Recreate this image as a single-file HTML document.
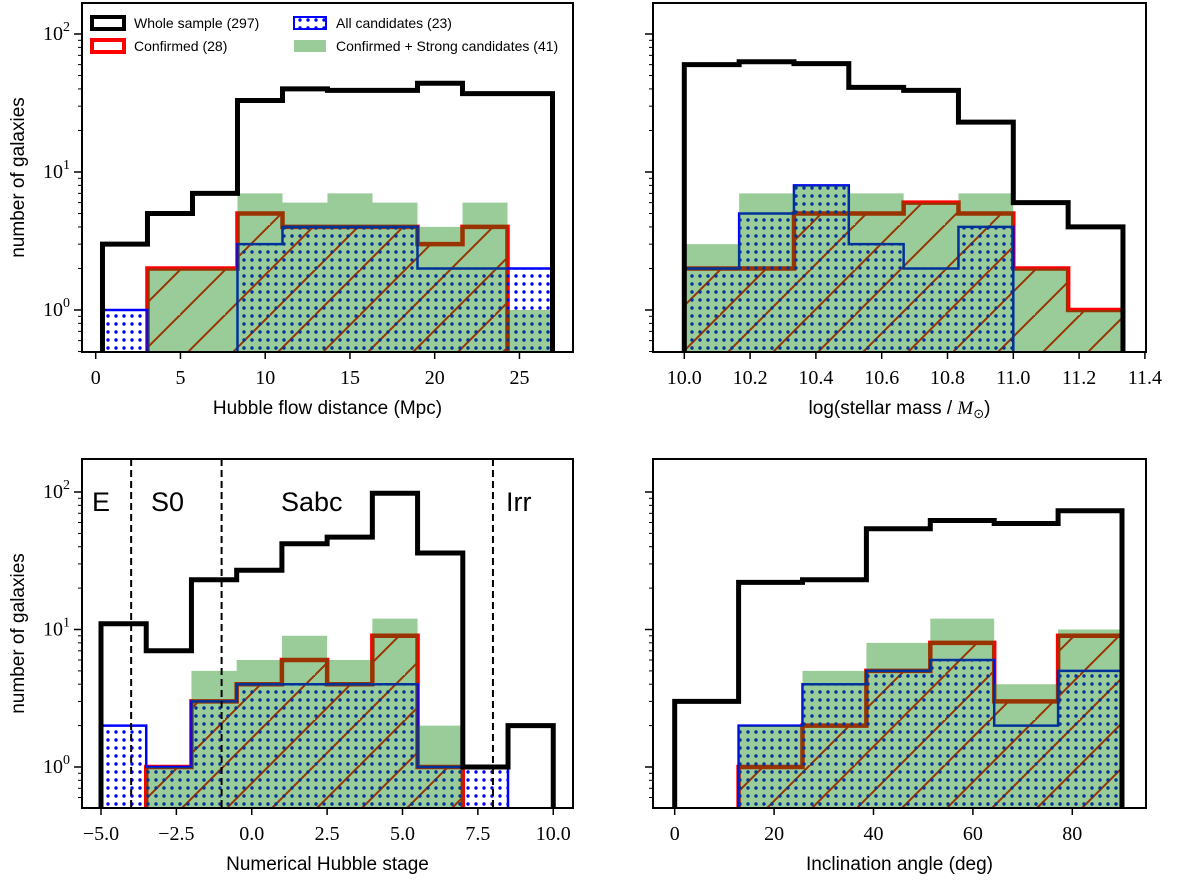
<!DOCTYPE html>
<html><head><meta charset="utf-8">
<style>
html,body{margin:0;padding:0;background:#fff;}
svg{display:block;}
text{font-family:"Liberation Sans",sans-serif;fill:#000;}
.tick{font-family:"Liberation Serif",serif;font-size:20px;}
.lab{font-size:19px;}
.leg{font-size:14px;}
</style></head>
<body>
<svg id="chart" width="1200" height="881" viewBox="0 0 1200 881" xmlns="http://www.w3.org/2000/svg">
<defs>
<pattern id="hatch" patternUnits="userSpaceOnUse" width="45" height="45">
<path d="M-5,50 L50,-5 M-50,50 L5,-5 M40,95 L95,40" stroke="#ff0000" stroke-width="2" fill="none"/>
</pattern>
<pattern id="dots" patternUnits="userSpaceOnUse" width="8" height="8">
<circle cx="4" cy="4" r="1.7" fill="#0000ff"/>
</pattern>
</defs>
</svg>
<script>
// Panel 1: Hubble flow distance
const p1Edges = [0.4,3.055,5.71,8.365,11.02,13.675,16.33,18.985,21.64,24.295,26.95];
const p1Whole = [3,5,7,33,40,39,39,44,37,37];
const p1Confirmed = [0,2,2,5,4,4,4,3,4,0];
const p1Candidates = [1,0,0,3,4,4,4,2,2,2];
const p1Strong = [0,2,2,7,6,7,6,4,6,1];
const p1Ticks = [0,5,10,15,20,25];
const p1TickLabels = ["0","5","10","15","20","25"];
// Panel 2: stellar mass
const p2Edges = [10.0,10.1667,10.3333,10.5,10.6667,10.8333,11.0,11.1667,11.3333];
const p2Whole = [60,63,61,41,39,23,6,4];
const p2Confirmed = [2,2,5,5,6,5,2,1];
const p2Candidates = [2,5,8,3,2,4,0,0];
const p2Strong = [3,7,8,7,6,7,2,1];
const p2Ticks = [10.0,10.2,10.4,10.6,10.8,11.0,11.2,11.4];
const p2TickLabels = ["10.0","10.2","10.4","10.6","10.8","11.0","11.2","11.4"];
// Panel 3: Hubble stage
const p3Edges = [-5,-3.5,-2,-0.5,1,2.5,4,5.5,7,8.5,10];
const p3Whole = [11,7,23,27,42,47,98,36,1,2];
const p3Confirmed = [0,1,3,4,6,4,9,1,0,0];
const p3Candidates = [2,1,3,4,4,4,4,1,1,0];
const p3Strong = [0,1,5,6,9,6,12,2,0,0];
const p3Ticks = [-5,-2.5,0,2.5,5,7.5,10];
const p3TickLabels = ["\u22125.0","\u22122.5","0.0","2.5","5.0","7.5","10.0"];
const p3Dividers = [-4,-1,8];
// Panel 4: inclination
const p4Edges = [0,12.857,25.714,38.571,51.429,64.286,77.143,90];
const p4Whole = [3,22,23,54,62,59,73];
const p4Confirmed = [0,1,2,5,8,3,9];
const p4Candidates = [0,2,4,5,6,2,5];
const p4Strong = [0,2,5,8,12,4,10];
const p4Ticks = [0,20,40,60,80];
const p4TickLabels = ["0","20","40","60","80"];

const NS = "http://www.w3.org/2000/svg";
const svg = document.getElementById('chart');
function mk(tag, attrs, parent){
  const e = document.createElementNS(NS, tag);
  for (const k in attrs) e.setAttribute(k, attrs[k]);
  (parent||svg).appendChild(e);
  return e;
}

function panel(id, geo, edges, whole, conf, cand, strong, ticks, tickLabels, xlabel, showYLabels){
  const {L,R,T,B,y0,dec,xa,xs} = geo;
  const X = v => xa + v*xs;
  const Y = v => v>0 ? y0 - Math.log10(v)*dec : B+20;
  const g = mk('g', {});
  
  
  const cp = mk('clipPath', {id:id+'-clip'}, g);
  mk('rect', {x:L, y:T, width:R-L, height:B-T}, cp);
  const plot = mk('g', {'clip-path':'url(#'+id+'-clip)'}, g);
  function stepPath(vals){
    let d = 'M'+X(edges[0])+','+(B+20);
    for (let i=0;i<vals.length;i++){
      d += ' L'+X(edges[i])+','+Y(vals[i])+' L'+X(edges[i+1])+','+Y(vals[i]);
    }
    d += ' L'+X(edges[edges.length-1])+','+(B+20);
    return d;
  }
  const c1 = mk('path', {d:stepPath(conf), fill:'url(#hatch)', stroke:'#ff0000', 'stroke-width':4.5, 'stroke-linejoin':'miter'}, plot);
  
  
  const cw = mk('path', {d:stepPath(cand), fill:'url(#dots)', stroke:'#0000ff', 'stroke-width':2.5}, plot);
  
  
  const s = mk('path', {d:stepPath(strong), fill:'#008000', 'fill-opacity':0.4, stroke:'none'}, plot);
  
  
  const w = mk('path', {d:stepPath(whole), fill:'none', stroke:'#000', 'stroke-width':5, 'stroke-linejoin':'miter'}, plot);
  
  
  const fr = mk('rect', {x:L, y:T, width:R-L, height:B-T, fill:'none', stroke:'#000', 'stroke-width':2}, g);
  
  
  ticks.forEach((t,i)=>{
    mk('line', {x1:X(t), x2:X(t), y1:B, y2:B+7, stroke:'#000', 'stroke-width':1.5}, g);
    const tx = mk('text', {x:X(t), y:B+32, 'text-anchor':'middle', class:'tick'}, g);
    tx.textContent = tickLabels[i];
    
    
  });
  const xl = mk('text', {x:(L+R)/2, y:B+62, 'text-anchor':'middle', class:'lab'}, g);
  xl.innerHTML = xlabel;
  
  
  for (let p=-1;p<=2;p++){
    for (let m=1;m<=9;m++){
      const v = m*Math.pow(10,p);
      const yy = Y(v);
      if (yy < T || yy > B) continue;
      const len = m===1 ? 8 : 4;
      mk('line', {x1:L-len, x2:L, y1:yy, y2:yy, stroke:'#000', 'stroke-width':m===1?1.5:1}, g);
      if (m===1 && showYLabels){
        const t = mk('text', {x:L-12, y:yy+6, 'text-anchor':'end', class:'tick'}, g);
        t.innerHTML = '10<tspan dy="-9" font-size="14">'+p+'</tspan>';
        
        
      }
    }
  }
  if (showYLabels){
    const yl = mk('text', {x:0, y:0, 'text-anchor':'middle', class:'lab', transform:'translate(24,'+((T+B)/2)+') rotate(-90)'}, g);
    yl.textContent = 'number of galaxies';
    
    
  }
  return {X,Y,g};
}

const g1 = {L:82,R:573,T:3,B:352,y0:310,dec:138,xa:95.7,xs:16.95};
const g2 = {L:653,R:1146,T:3,B:352,y0:310,dec:138,xa:684.3-10*329,xs:329};
const g3 = {L:82,R:573,T:459,B:808,y0:767,dec:137.5,xa:101+5*30.15,xs:30.15};
const g4 = {L:653,R:1146,T:459,B:808,y0:767,dec:137.5,xa:674.7,xs:4.97};

panel('distance', g1, p1Edges, p1Whole, p1Confirmed, p1Candidates, p1Strong, p1Ticks, p1TickLabels, 'Hubble flow distance (Mpc)', true);
panel('mass', g2, p2Edges, p2Whole, p2Confirmed, p2Candidates, p2Strong, p2Ticks, p2TickLabels, 'log(stellar mass / <tspan font-family="Liberation Serif" font-style="italic">M</tspan><tspan font-size="13" dy="4">⊙</tspan><tspan dy="-4">)</tspan>', false);
const P3 = panel('hubble-stage', g3, p3Edges, p3Whole, p3Confirmed, p3Candidates, p3Strong, p3Ticks, p3TickLabels, 'Numerical Hubble stage', true);
panel('inclination', g4, p4Edges, p4Whole, p4Confirmed, p4Candidates, p4Strong, p4Ticks, p4TickLabels, 'Inclination angle (deg)', false);

p3Dividers.forEach(v=>{
  const l = mk('line', {x1:P3.X(v), x2:P3.X(v), y1:g3.T, y2:g3.B, stroke:'#000', 'stroke-width':2, 'stroke-dasharray':'7,4'});
  
  
});
const typeLabels = [['E',92],['S0',151],['Sabc',281],['Irr',506]];
typeLabels.forEach(([t,x])=>{
  const e = mk('text', {x:x, y:511, 'font-size':'27'});
  e.textContent = t;
  
  
});

const leg = mk('g', {});


const entries = [
  {x:92, y:23, t:'Whole sample (297)', f:'none', s:'#000', sw:4, o:1},
  {x:92, y:46, t:'Confirmed (28)', f:'url(#hatch)', s:'#ff0000', sw:4, o:1},
  {x:294, y:23, t:'All candidates (23)', f:'url(#dots)', s:'#0000ff', sw:2, o:1},
  {x:294, y:46, t:'Confirmed + Strong candidates (41)', f:'#008000', s:'none', sw:0, o:0.4}
];
entries.forEach(en=>{
  const r = mk('rect', {x:en.x, y:en.y-6, width:32, height:12, fill:en.f, 'fill-opacity':en.o, stroke:en.s, 'stroke-width':en.sw}, leg);
  
  
  const t = mk('text', {x:en.x+42, y:en.y+5, class:'leg'}, leg);
  t.textContent = en.t;
  
  
});
</script>
</body></html>
